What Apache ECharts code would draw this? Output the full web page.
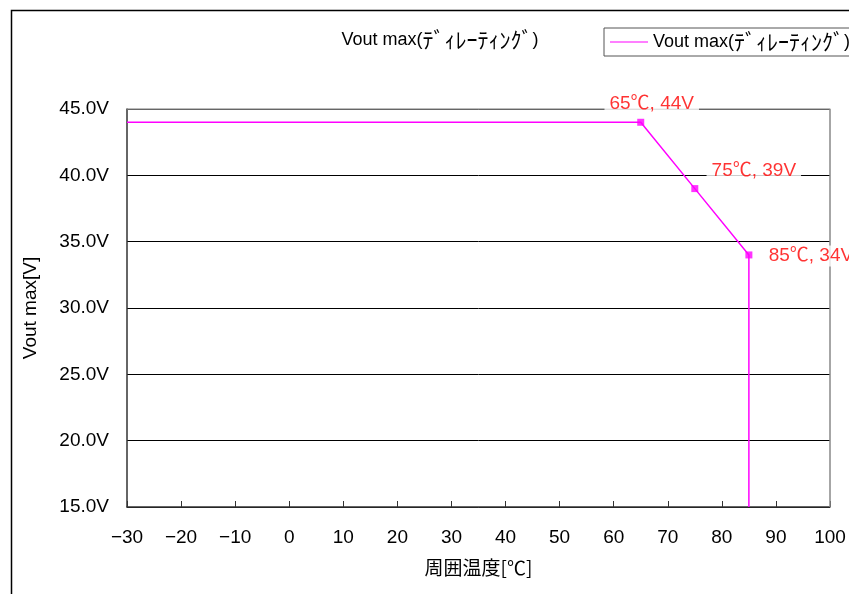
<!DOCTYPE html>
<html>
<head>
<meta charset="utf-8">
<script src="https://cdn.jsdelivr.net/npm/echarts@6/dist/echarts.min.js"></script>
<style>html,body{margin:0;padding:0;background:#fff}#c{width:849px;height:594px}</style>
</head>
<body>
<div id="c"></div>
<script>
// Data
const seriesName = 'Vout max(ﾃﾞｨﾚｰﾃｨﾝｸﾞ)';
const namePrefix = 'Vout max(';
const nameKana = 'ﾃﾞｨﾚｰﾃｨﾝｸﾞ';
const nameSuffix = ')';
const temps = [-30, 65, 75, 85, 85];
const volts = [44, 44, 39, 34, 15];
const markTemps = [65, 75, 85];
const markVolts = [44, 39, 34];
const markLabels = ['65℃, 44V', '75℃, 39V', '85℃, 34V'];
const xTicks = [-30, -20, -10, 0, 10, 20, 30, 40, 50, 60, 70, 80, 90, 100];
const yTicks = [15, 20, 25, 30, 35, 40, 45];

const FONT = '"Liberation Sans", "Noto Sans CJK JP", sans-serif';
const CJK = '"Noto Sans CJK JP", sans-serif';
const labelOffsets = [[11, -19], [59, -18], [62, 1]];
const MAG = '#ff00ff';

const richName = {
  a: { fontFamily: FONT, fontSize: 18, color: '#000' },
  k: { fontFamily: CJK, fontSize: 22, color: '#000' }
};
const fmtName = '{a|' + namePrefix + '}{k|' + nameKana + '}{a|' + nameSuffix + '}';

const chart = echarts.init(document.getElementById('c'));
chart.setOption({
  animation: false,
  backgroundColor: '#fff',
  textStyle: { fontFamily: FONT },
  graphic: [{
    type: 'rect', left: 9, top: 8, silent: true,
    shape: { width: 1000, height: 1000 },
    style: { fill: 'none', stroke: '#000', lineWidth: 1.5 }
  }],
  title: {
    text: fmtName, left: 435, top: 24, textAlign: 'center',
    textStyle: { fontFamily: FONT, fontSize: 18, fontWeight: 'normal', color: '#000', rich: richName }
  },
  legend: {
    left: 604, top: 28, padding: [3, 6, 3, 6],
    borderColor: '#555', borderWidth: 1, backgroundColor: '#fff',
    itemWidth: 38, itemHeight: 1, itemGap: 7,
    data: [{ name: seriesName, icon: 'rect', itemStyle: { color: MAG }, lineStyle: { color: MAG } }],
    formatter: () => fmtName,
    textStyle: { fontFamily: FONT, fontSize: 18, color: '#000', rich: richName }
  },
  grid: { left: 127, right: 19, top: 109, bottom: 87, show: false },
  xAxis: {
    type: 'value', min: -30, max: 100, interval: 10,
    name: '周囲温度[℃]', nameLocation: 'middle', nameGap: 51,
    nameTextStyle: { fontFamily: CJK, fontSize: 19, color: '#000' },
    axisLine: { show: true, onZero: false, lineStyle: { color: '#333', width: 1.5 } },
    axisTick: { show: true, inside: true, length: 6, lineStyle: { color: '#333' } },
    axisLabel: { fontFamily: FONT, fontSize: 19, color: '#000', margin: 21,
      formatter: v => (v < 0 ? '−' + Math.abs(v) : String(v)) },
    splitLine: { show: false }
  },
  yAxis: {
    type: 'value', min: 15, max: 45, interval: 5,
    name: 'Vout max[V]', nameLocation: 'middle', nameGap: 87, nameRotate: 90,
    nameTextStyle: { fontFamily: FONT, fontSize: 19, color: '#000' },
    axisLine: { show: true, onZero: false, lineStyle: { color: '#333', width: 1.5 } },
    axisTick: { show: false },
    axisLabel: { fontFamily: FONT, fontSize: 19, color: '#000', margin: 18,
      padding: [4, 0, 0, 0],
      formatter: v => v.toFixed(1) + 'V' },
    splitLine: { show: true, lineStyle: { color: '#000', width: 1 } }
  },
  series: [
    {
      name: seriesName, type: 'line', color: MAG,
      data: temps.map((t, i) => [t, volts[i]]),
      showSymbol: false, symbol: 'none',
      lineStyle: { color: MAG, width: 1.5 },
      itemStyle: { color: MAG },
      z: 3
    },
    {
      name: 'pts', type: 'scatter',
      data: markTemps.map((t, i) => ({
        value: [t, markVolts[i]],
        label: { offset: labelOffsets[i] }
      })),
      symbol: 'rect', symbolSize: 7,
      itemStyle: { color: MAG },
      label: {
        show: true, position: 'inside', align: 'center', verticalAlign: 'middle',
        formatter: p => markLabels[p.dataIndex],
        fontFamily: FONT, fontSize: 19, color: '#ff0000',
        backgroundColor: '#fff', padding: [1, 5]
      },
      z: 4
    },
    {
      name: 'topBorder', type: 'line', silent: true,
      data: [[-30, 45], [100, 45], [100, 15]],
      symbol: 'none', lineStyle: { color: '#888', width: 1.5 }, z: 1
    }
  ]
});
</script>
</body>
</html>
